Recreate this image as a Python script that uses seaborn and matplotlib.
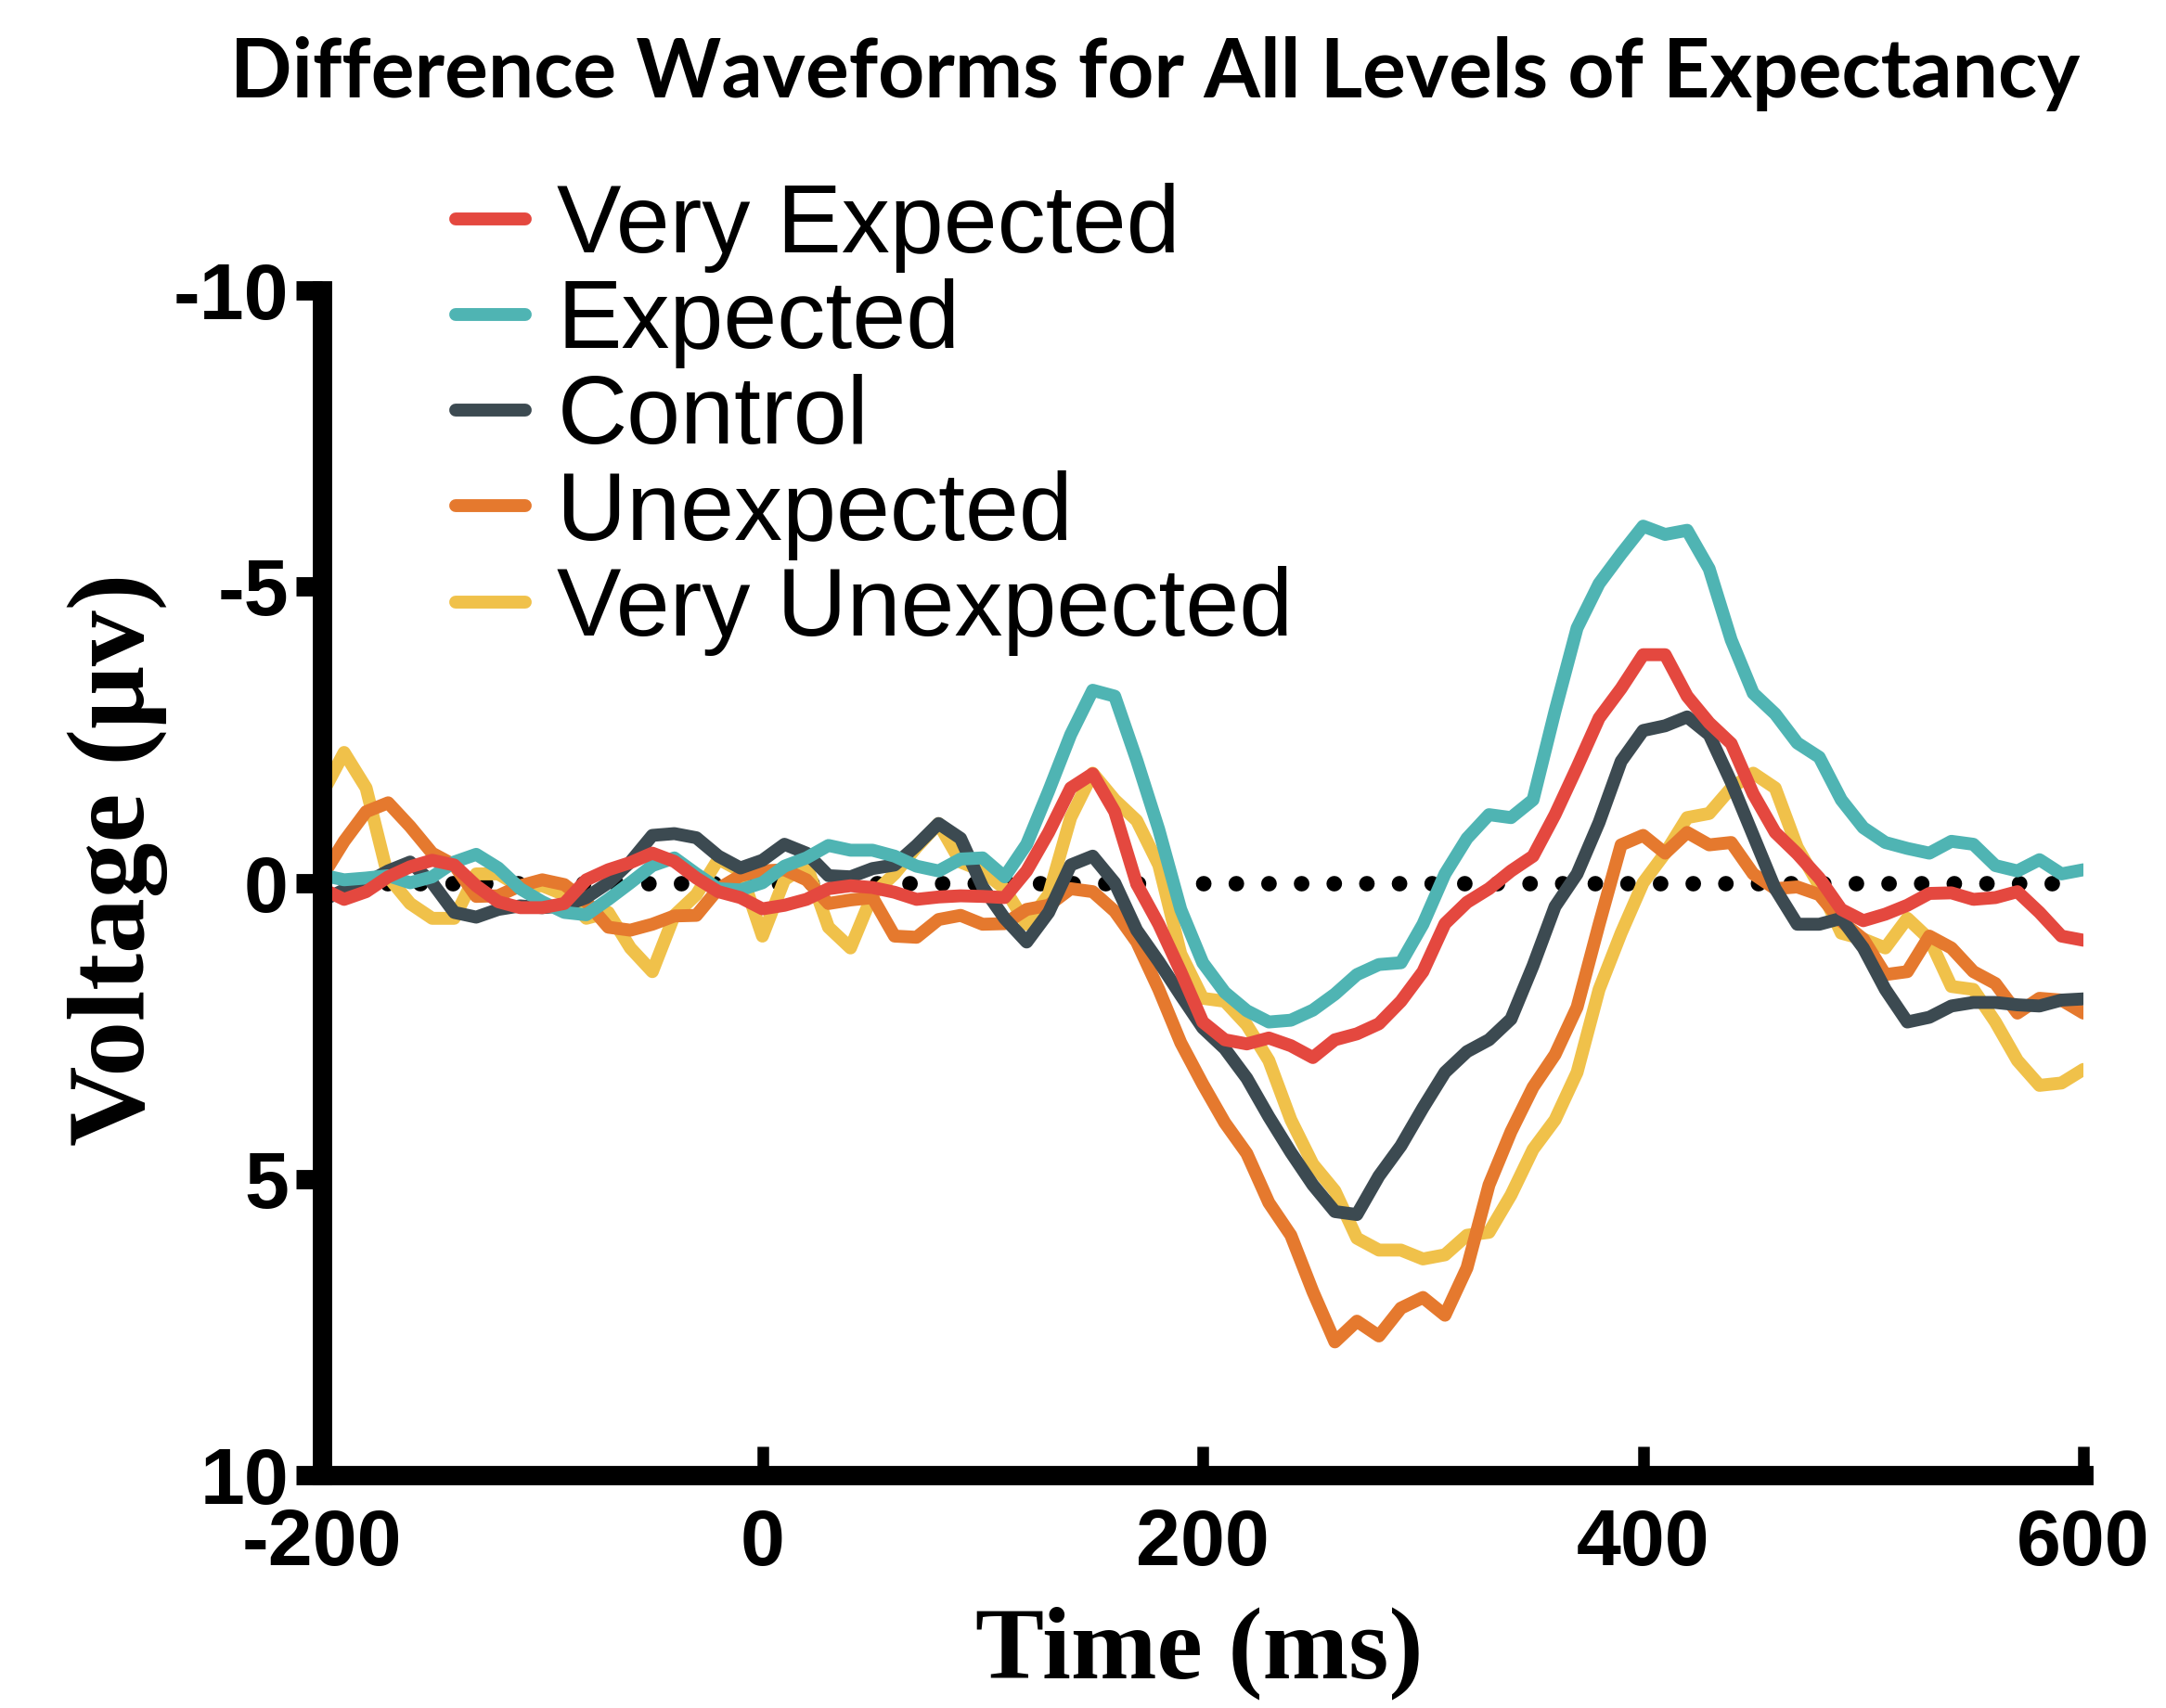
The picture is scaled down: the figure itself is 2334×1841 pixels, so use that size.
import pandas as pd
import matplotlib.pyplot as plt
import seaborn as sns

# ERP difference waves, sampled every 10 ms
time_ms = list(range(-200, 601, 10))

very_expected = [0.1, 0.28, 0.15, -0.1, -0.27, -0.38, -0.3, 0.05, 0.32, 0.42,
                 0.42, 0.35, -0.05, -0.22, -0.34, -0.5, -0.36, -0.08, 0.15, 0.25,
                 0.44, 0.38, 0.28, 0.1, 0.05, 0.08, 0.16, 0.28, 0.24, 0.22,
                 0.23, 0.25, -0.2, -0.85, -1.6, -1.84, -1.2, 0.02, 0.7, 1.5,
                 2.35, 2.65, 2.72, 2.62, 2.75, 2.95, 2.65, 2.55, 2.38, 2.0,
                 1.5, 0.69, 0.33, 0.1, -0.2, -0.45, -1.15, -1.95, -2.78, -3.28,
                 -3.85, -3.85, -3.15, -2.7, -2.35, -1.5, -0.85, -0.49, -0.08, 0.45,
                 0.64, 0.53, 0.38, 0.18, 0.17, 0.28, 0.25, 0.15, 0.5, 0.9,
                 0.97]

expected = [-0.13, -0.05, -0.08, -0.12, 0.0, -0.1, -0.35, -0.48, -0.25, 0.1,
            0.32, 0.5, 0.54, 0.28, 0.0, -0.29, -0.42, -0.15, 0.1, 0.12,
            0.0, -0.28, -0.42, -0.63, -0.55, -0.55, -0.45, -0.28, -0.2, -0.4,
            -0.42, -0.1, -0.65, -1.55, -2.5, -3.25, -3.15, -2.07, -0.9, 0.45,
            1.35, 1.85, 2.16, 2.35, 2.32, 2.15, 1.88, 1.55, 1.38, 1.35,
            0.7, -0.15, -0.75, -1.15, -1.1, -1.4, -2.9, -4.3, -5.05, -5.55,
            -6.02, -5.88, -5.95, -5.3, -4.1, -3.2, -2.85, -2.36, -2.12, -1.4,
            -0.93, -0.68, -0.58, -0.5, -0.7, -0.65, -0.29, -0.2, -0.39, -0.15,
            -0.22]

control = [0.3, 0.12, 0.0, -0.2, -0.35, 0.0, 0.5, 0.58, 0.45, 0.39,
           0.42, 0.39, 0.25, 0.0, -0.35, -0.8, -0.83, -0.76, -0.45, -0.25,
           -0.38, -0.65, -0.5, -0.12, -0.1, -0.24, -0.3, -0.63, -1.0, -0.75,
           0.07, 0.6, 1.0, 0.5, -0.3, -0.45, 0.0, 0.8, 1.33, 1.9,
           2.45, 2.8, 3.3, 3.95, 4.55, 5.1, 5.55, 5.6, 4.95, 4.44,
           3.8, 3.2, 2.85, 2.65, 2.3, 1.4, 0.4, -0.15, -1.02, -2.05,
           -2.57, -2.65, -2.8, -2.5, -1.7, -0.8, 0.1, 0.7, 0.7, 0.6,
           1.1, 1.8, 2.35, 2.27, 2.08, 2.02, 2.02, 2.06, 2.08, 1.98,
           1.96]

unexpected = [-0.1, -0.7, -1.2, -1.35, -0.95, -0.5, -0.3, 0.23, 0.22, 0.05,
              -0.05, 0.03, 0.32, 0.75, 0.8, 0.7, 0.56, 0.55, 0.1, -0.12,
              -0.2, -0.22, -0.05, 0.35, 0.29, 0.25, 0.9, 0.92, 0.62, 0.55,
              0.7, 0.69, 0.45, 0.38, 0.1, 0.15, 0.48, 1.0, 1.8, 2.7,
              3.4, 4.05, 4.57, 5.4, 5.95, 6.9, 7.75, 7.4, 7.65, 7.18,
              7.0, 7.3, 6.5, 5.1, 4.2, 3.45, 2.9, 2.1, 0.7, -0.64,
              -0.8, -0.5, -0.85, -0.64, -0.68, -0.15, 0.1, 0.07, 0.2, 0.65,
              0.95, 1.55, 1.5, 0.9, 1.1, 1.5, 1.7, 2.2, 1.95, 1.98,
              2.2]

very_unexpected = [-1.5, -2.2, -1.6, -0.1, 0.35, 0.6, 0.6, -0.15, -0.15, 0.07,
                   0.05, 0.2, 0.6, 0.5, 1.1, 1.5, 0.55, 0.2, -0.4, -0.2,
                   0.9, -0.05, -0.3, 0.75, 1.1, 0.2, -0.15, -0.6, -1.0, -0.35,
                   -0.2, 0.1, 0.7, 0.2, -1.1, -1.85, -1.4, -1.05, -0.3, 1.2,
                   1.95, 2.0, 2.4, 3.0, 4.0, 4.75, 5.2, 6.0, 6.2, 6.2,
                   6.35, 6.28, 5.95, 5.9, 5.27, 4.5, 4.0, 3.2, 1.8, 0.85,
                   0.0, -0.5, -1.1, -1.17, -1.6, -1.85, -1.6, -0.6, 0.05, 0.85,
                   0.95, 1.1, 0.6, 0.95, 1.75, 1.8, 2.35, 3.0, 3.42, 3.38,
                   3.15]

conditions = ['Very Expected', 'Expected', 'Control', 'Unexpected', 'Very Unexpected']
colors = ['#E4483F', '#4FB4B3', '#3C4A51', '#E5792E', '#F0C14A']
series = [very_expected, expected, control, unexpected, very_unexpected]

df = pd.concat([pd.DataFrame({'Time': time_ms, 'Voltage': s, 'Condition': c})
                for c, s in zip(conditions, series)], ignore_index=True)

sns.set_theme(style='white')
plt.rcParams['font.family'] = ['Liberation Sans', 'DejaVu Sans']
plt.rcParams['axes.unicode_minus'] = False
plt.rcParams['text.color'] = 'black'
plt.rcParams['axes.labelcolor'] = 'black'

fig = plt.figure(figsize=(23.34, 18.41), dpi=100)
ax = fig.add_axes([0.1487, 0.1363, 0.8132, 0.6937])

# dotted zero line
ax.axhline(0, color='black', lw=12, linestyle=(0, (0.01, 2.1)),
           dash_capstyle='round', zorder=1)

draw_order = conditions[::-1]
sns.lineplot(data=df, x='Time', y='Voltage', hue='Condition', hue_order=draw_order,
             palette=dict(zip(conditions, colors)), linewidth=10, errorbar=None,
             solid_capstyle='round', solid_joinstyle='round', ax=ax, zorder=2)

ax.set_xlim(-200, 600)
ax.set_ylim(10, -10)
ax.set_xticks([-200, 0, 200, 400, 600])
ax.set_yticks([-10, -5, 0, 5, 10])

sns.despine(ax=ax)
for side in ['left', 'bottom']:
    ax.spines[side].set_linewidth(15)
    ax.spines[side].set_color('black')

ax.tick_params(axis='x', bottom=True, direction='in', length=22, width=9, pad=25,
               labelsize=62, colors='black')
ax.tick_params(axis='y', left=True, direction='out', length=20, width=15, pad=6,
               labelsize=62, colors='black')
for lab in ax.get_xticklabels() + ax.get_yticklabels():
    lab.set_fontweight('bold')

ax.set_xlabel('Time (ms)', fontfamily='Liberation Serif', fontweight='bold',
              fontsize=80, va='center')
ax.set_ylabel('Voltage (μv)', fontfamily='Liberation Serif', fontweight='bold',
              fontsize=86, va='center')
ax.xaxis.set_label_coords(0.498, -0.15)
ax.yaxis.set_label_coords(-0.116, 0.52)

handles, labels = ax.get_legend_handles_labels()
lookup = dict(zip(labels, handles))
leg = ax.legend([lookup[c] for c in conditions], conditions, loc='upper left',
                bbox_to_anchor=(0.2104, 0.893), bbox_transform=fig.transFigure,
                frameon=False, fontsize=75, handlelength=0.72, handletextpad=0.33,
                labelspacing=0.06, borderpad=0, borderaxespad=0)
for h in leg.get_lines():
    h.set_linewidth(10)
    h.set_solid_capstyle('round')

fig.text(0.5334, 0.957, 'Difference Waveforms for All Levels of Expectancy',
         ha='center', va='center', fontfamily='Lato', fontweight='bold', fontsize=63)

fig.savefig('out.png', dpi=100)
